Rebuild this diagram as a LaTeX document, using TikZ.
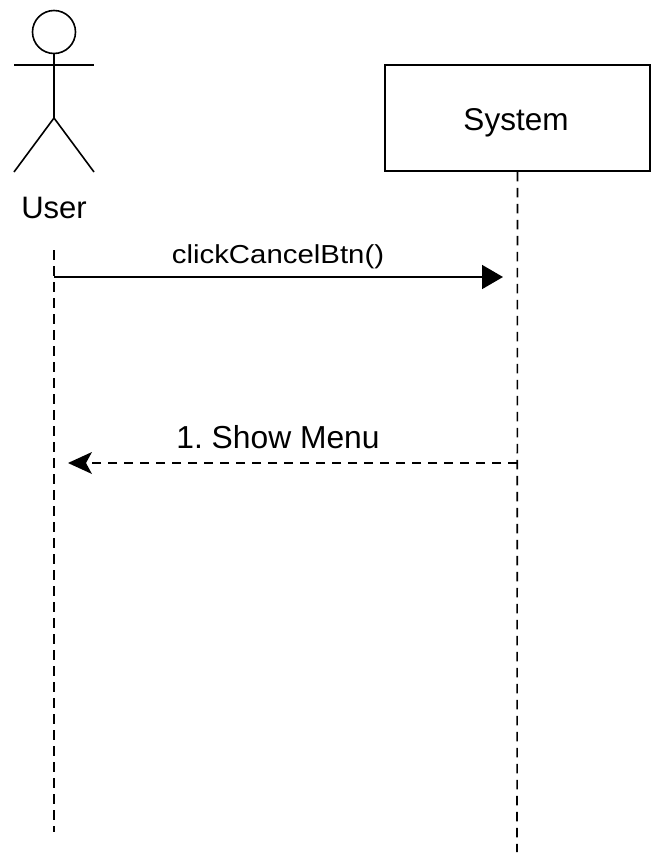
\documentclass[tikz,border=0pt]{standalone}
\usepackage{fontspec}
\setmainfont{Liberation Sans}
\frenchspacing
\usetikzlibrary{arrows.meta}
\tikzset{
 ln/.style={draw=black,line width=1.6pt},
 life/.style={draw=black,line width=1.6pt,dash pattern=on 9.5pt off 6.5pt},
 lbl/.style={inner sep=0pt,text=black,anchor=base},
 tip/.style={-{Triangle[length=21pt,width=24pt]}}
}
\begin{document}
\begin{tikzpicture}[x=1pt,y=-1pt]
\useasboundingbox[fill=white] (0,0) rectangle (656,854);
% actor
\node[circle,draw=black,line width=1.6pt,minimum size=43pt,inner sep=0pt] (head) at (54,32) {};
\coordinate (hip) at (54,118);
\coordinate (armL) at (14,65);
\coordinate (armR) at (94,65);
\coordinate (legL) at (14,172);
\coordinate (legR) at (94,172);
\draw[ln] (head.south) -- (hip);
\draw[ln] (armL) -- (armR);
\draw[ln] (legL) -- (hip) -- (legR);
\node[lbl,font=\fontsize{31}{34}\selectfont] (user) at (54,218) {User};
% system
\node[draw=black,line width=1.6pt,minimum width=265pt,minimum height=106pt,inner sep=0pt] (sys) at (517.5,118) {};
\node[lbl,font=\fontsize{31.5}{34}\selectfont] (systxt) at (516,130) {System};
% lifelines
\coordinate (uTop) at (54,250);
\coordinate (uBot) at (54,832);
\coordinate (sBot) at (517,852);
\draw[life] (uTop) -- (uBot);
\draw[life] (sys.south) -- (sBot);
% messages
\coordinate (m1a) at (54,277);
\coordinate (m1b) at (503,277);
\coordinate (m2a) at (517,463);
\coordinate (m2b) at (68,463);
\coordinate (m2c) at (90,463);
\draw[ln,tip] (m1a) -- (m1b);
\draw[line width=1.6pt,dash pattern=on 9.5pt off 6.5pt] (m2a) -- (m2c);
\fill (m2b) -- (92,452) -- (86,463) -- (92,474) -- cycle;
\node[lbl,font=\fontsize{26}{30}\selectfont,xscale=1.13] (l1) at (278,263) {clickCancelBtn()};
\node[lbl,font=\fontsize{31.8}{34}\selectfont] (l2) at (278,448) {1. Show Menu};
\end{tikzpicture}
\end{document}
